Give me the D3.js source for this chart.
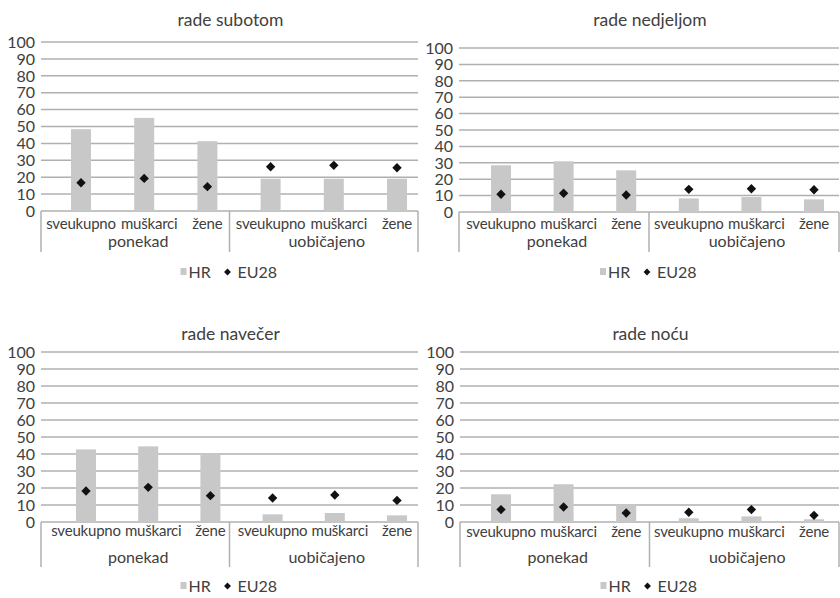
<!DOCTYPE html>
<html lang="hr">
<head>
  <meta charset="UTF-8">
  <title>Rad subotom, nedjeljom, navečer i noću</title>
  <script src="https://d3js.org/d3.v7.min.js"></script>
  <style>
    body { margin: 0; background: #fff; }
    svg text { font-family: Lato, "Open Sans", sans-serif; fill: #404040; }
    .grid line { stroke: #b0b0b0; stroke-width: 1.5px; }
    .sep { stroke: #b0b0b0; stroke-width: 1.5px; }
    .cat { letter-spacing: -0.2px; }
  </style>
</head>
<body>
  <svg width="840" height="598"></svg>

  <script>
    // categories
    const categories = ["sveukupno", "muškarci", "žene", "sveukupno", "muškarci", "žene"];
    const groups = ["ponekad", "uobičajeno"];
    const yTicks = [0, 10, 20, 30, 40, 50, 60, 70, 80, 90, 100];
    const seriesNames = ["HR", "EU28"];

    // values per panel (percent)
    const titles = ["rade subotom", "rade nedjeljom", "rade navečer", "rade noću"];
    const hrSubotom   = [48.4, 55.1, 41.3, 19.1, 19.1, 19.1];
    const euSubotom   = [16.7, 19.3, 14.4, 26.2, 27.0, 25.6];
    const hrNedjeljom = [28.5, 30.9, 25.4, 8.3, 9.1, 7.7];
    const euNedjeljom = [10.8, 11.4, 10.4, 13.8, 14.2, 13.6];
    const hrNavecer   = [42.7, 44.5, 40.2, 4.5, 5.3, 3.9];
    const euNavecer   = [18.2, 20.4, 15.5, 14.1, 15.9, 12.7];
    const hrNocu      = [16.3, 22.2, 10.4, 2.2, 3.3, 1.6];
    const euNocu      = [7.3, 8.8, 5.3, 5.7, 7.3, 3.9];

    const hrData = [hrSubotom, hrNedjeljom, hrNavecer, hrNocu];
    const euData = [euSubotom, euNedjeljom, euNavecer, euNocu];

    // panel boxes (layout only)
    const panels = [
      { left: 41,  right: 418, top: 42,  bottom: 211, titleY: 26,  catY: 229, grpY: 247, sepY: 252, legY: 278, padL: 40, padR: 21 },
      { left: 459, right: 839, top: 48,  bottom: 212, titleY: 26,  catY: 229, grpY: 247, sepY: 252, legY: 278, padL: 42, padR: 25 },
      { left: 41,  right: 418, top: 352, bottom: 522, titleY: 340, catY: 536, grpY: 563, sepY: 567, legY: 592, padL: 45, padR: 21 },
      { left: 460, right: 839, top: 352, bottom: 522, titleY: 340, catY: 537, grpY: 563, sepY: 567, legY: 592, padL: 41, padR: 25 }
    ];

    const svg = d3.select("svg");

    panels.forEach((p, i) => {
      const g = svg.append("g");

      const y = d3.scaleLinear().domain([0, 100]).range([p.bottom, p.top]);
      const x = d3.scalePoint()
        .domain(d3.range(categories.length))
        .range([p.left + p.padL, p.right - p.padR]);
      const barW = 20;
      const mid = (p.left + p.right) / 2;

      // title
      g.append("text")
        .attr("x", mid + 1)
        .attr("y", p.titleY)
        .attr("text-anchor", "middle")
        .attr("font-size", 17.5)
        .text(titles[i]);

      // gridlines
      g.append("g")
        .attr("class", "grid")
        .selectAll("line")
        .data(yTicks)
        .enter().append("line")
        .attr("x1", p.left)
        .attr("x2", p.right)
        .attr("y1", d => y(d))
        .attr("y2", d => y(d));

      // y tick labels
      g.append("g")
        .selectAll("text")
        .data(yTicks)
        .enter().append("text")
        .attr("x", p.left - 6)
        .attr("y", d => y(d))
        .attr("dy", "0.36em")
        .attr("text-anchor", "end")
        .attr("font-size", 16)
        .text(d => d);

      // HR bars
      g.append("g")
        .selectAll("rect")
        .data(hrData[i])
        .enter().append("rect")
        .attr("x", (d, j) => x(j) - barW / 2)
        .attr("y", d => y(d))
        .attr("width", barW)
        .attr("height", d => y(0) - y(d))
        .attr("fill", "#c8c8c9");

      // EU28 diamonds
      g.append("g")
        .selectAll("path")
        .data(euData[i])
        .enter().append("path")
        .attr("d", d3.symbol(d3.symbolDiamond2, 56))
        .attr("transform", (d, j) => `translate(${x(j)},${y(d)})`)
        .attr("fill", "#111");

      // category axis separators
      [p.left, mid, p.right].forEach(sx => {
        g.append("line")
          .attr("class", "sep")
          .attr("x1", sx).attr("x2", sx)
          .attr("y1", p.bottom).attr("y2", p.sepY);
      });

      // category labels
      g.append("g")
        .selectAll("text")
        .data(categories)
        .enter().append("text")
        .attr("class", "cat")
        .attr("x", (d, j) => x(j) + (j % 3 === 1 ? 5 : 0))
        .attr("y", p.catY)
        .attr("text-anchor", "middle")
        .attr("font-size", 15)
        .text(d => d);

      // group labels
      g.append("g")
        .selectAll("text")
        .data(groups)
        .enter().append("text")
        .attr("x", (d, k) => k === 0 ? (p.left + mid) / 2 + 3 : (mid + p.right) / 2 + 3)
        .attr("y", p.grpY)
        .attr("text-anchor", "middle")
        .attr("font-size", 16)
        .text(d => d);

      // legend
      const leg = g.append("g").attr("transform", `translate(${mid - 49},${p.legY})`);
      leg.append("rect")
        .attr("x", 0).attr("y", -10)
        .attr("width", 6).attr("height", 7)
        .attr("fill", "#c8c8c9");
      leg.append("text")
        .attr("x", 8).attr("y", 0)
        .attr("font-size", 16)
        .text(seriesNames[0]);
      leg.append("path")
        .attr("d", d3.symbol(d3.symbolDiamond2, 30))
        .attr("transform", "translate(47,-6)")
        .attr("fill", "#111");
      leg.append("text")
        .attr("x", 57).attr("y", 0)
        .attr("font-size", 16)
        .text(seriesNames[1]);
    });
  </script>
</body>
</html>
